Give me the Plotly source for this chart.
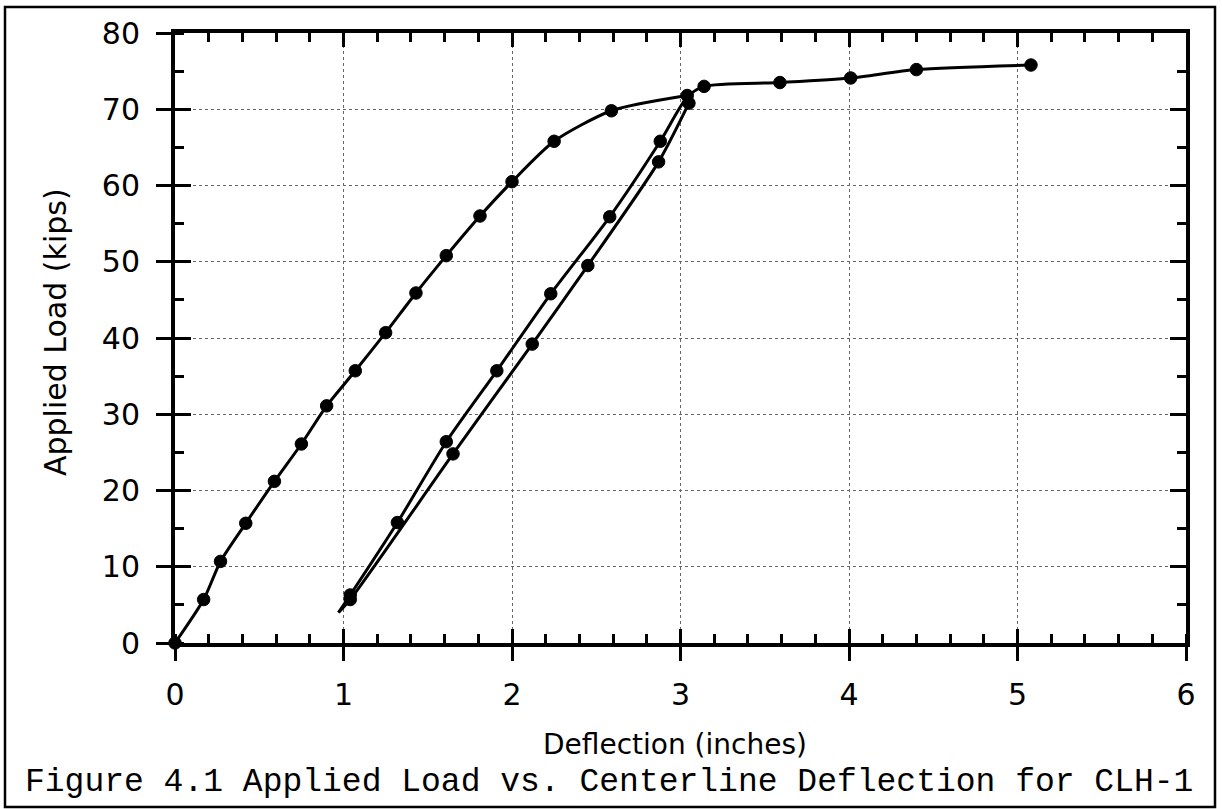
import plotly.graph_objects as go

# Loading (envelope up to unloading point)
load_x = [0.0, 0.17, 0.27, 0.42, 0.59, 0.75, 0.90, 1.07, 1.25, 1.43, 1.61, 1.81, 2.00, 2.25, 2.59, 3.04]
load_y = [0.0, 5.7, 10.7, 15.7, 21.2, 26.1, 31.1, 35.7, 40.7, 45.9, 50.8, 56.0, 60.5, 65.8, 69.8, 71.8]

# Unloading branch
unload_x = [3.05, 2.87, 2.45, 2.12, 1.65, 1.04, 0.97]
unload_y = [70.8, 63.1, 49.5, 39.2, 24.8, 5.7, 4.0]
unload_marker = [True, True, True, True, True, True, False]

# Reloading branch and continuation
reload_x = [0.97, 1.04, 1.32, 1.61, 1.91, 2.23, 2.58, 2.88, 3.04, 3.14, 3.59, 4.01, 4.40, 5.08]
reload_y = [4.0, 6.3, 15.8, 26.4, 35.7, 45.8, 55.9, 65.8, 71.6, 73.0, 73.5, 74.1, 75.2, 75.8]
reload_marker = [False, True, True, True, True, True, True, True, False, True, True, True, True, True]

x_title = "Deflection (inches)"
y_title = "Applied Load (kips)"
caption = "Figure 4.1 Applied Load vs. Centerline Deflection for CLH-1"

SANS = "DejaVu Sans"
MONO = "Liberation Mono"
MS = 12.5

fig = go.Figure()

def add_curve(xs, ys, show=None):
    fig.add_trace(go.Scatter(
        x=xs, y=ys, mode="lines",
        line=dict(color="black", width=3, shape="spline", smoothing=0.7),
        hoverinfo="skip", showlegend=False, cliponaxis=False))
    if show is None:
        mx, my = xs, ys
    else:
        mx = [a for a, s in zip(xs, show) if s]
        my = [b for b, s in zip(ys, show) if s]
    fig.add_trace(go.Scatter(
        x=mx, y=my, mode="markers",
        marker=dict(color="black", size=MS, symbol="circle",
                    line=dict(color="black", width=1)),
        hoverinfo="skip", showlegend=False, cliponaxis=False))

add_curve(load_x, load_y)
add_curve(unload_x, unload_y, unload_marker)
add_curve(reload_x, reload_y, reload_marker)

# invisible trace for the overlay axes (inside ticks)
fig.add_trace(go.Scatter(x=[0, 6], y=[0, 80], xaxis="x2", yaxis="y2", mode="markers",
                         marker=dict(opacity=0), hoverinfo="skip", showlegend=False))

common_line = dict(showline=True, linecolor="black", linewidth=4, zeroline=False)
grid = dict(showgrid=True, gridcolor="#666", griddash="dot", gridwidth=1)
minor_x = dict(tick0=0, dtick=0.2, ticks="inside", ticklen=9, tickwidth=2.5,
               tickcolor="black", showgrid=False)
minor_y = dict(tick0=0, dtick=5, ticks="inside", ticklen=9, tickwidth=2.5,
               tickcolor="black", showgrid=False)

fig.update_layout(
    width=1222, height=809,
    margin=dict(l=175, r=36, t=33, b=166),
    paper_bgcolor="white", plot_bgcolor="white",
    xaxis=dict(range=[0, 6], tickmode="linear", tick0=0, dtick=1, ticks="outside", ticklen=14,
               tickwidth=3, tickcolor="black", mirror=False,
               tickfont=dict(family=SANS, size=30, color="black"),
               ticklabelstandoff=8, minor=minor_x, **grid, **common_line),
    yaxis=dict(range=[0, 80], tickmode="linear", tick0=0, dtick=10, ticks="outside", ticklen=15,
               tickwidth=3, tickcolor="black", mirror=False,
               tickfont=dict(family=SANS, size=30, color="black"),
               ticklabelstandoff=10, minor=minor_y, **grid, **common_line),
    xaxis2=dict(range=[0, 6], overlaying="x", anchor="y2", side="bottom",
                tickmode="linear", tick0=0, dtick=1, ticks="inside", ticklen=14, tickwidth=3,
                tickcolor="black", mirror="allticks", showticklabels=False,
                showgrid=False, minor=minor_x, **common_line),
    yaxis2=dict(range=[0, 80], overlaying="y", anchor="x2", side="left",
                tickmode="linear", tick0=0, dtick=10, ticks="inside", ticklen=16, tickwidth=3,
                tickcolor="black", mirror="allticks", showticklabels=False,
                showgrid=False, minor=minor_y, **common_line),
)

# outer border
fig.add_shape(type="rect", xref="paper", yref="paper",
              x0=(5 - 175) / 1011, x1=(1215 - 175) / 1011,
              y0=(643 - 807) / 610, y1=(643 - 7) / 610,
              line=dict(color="black", width=2.5), layer="below")

fig.add_annotation(text=x_title, xref="paper", yref="paper",
                   x=(675 - 175) / 1011, y=(643 - 744) / 610,
                   showarrow=False, xanchor="center", yanchor="middle",
                   font=dict(family=SANS, size=28, color="black"))
fig.add_annotation(text=y_title, xref="paper", yref="paper",
                   x=(55 - 175) / 1011, y=(643 - 332) / 610, textangle=-90,
                   showarrow=False, xanchor="center", yanchor="middle",
                   font=dict(family=SANS, size=30, color="black"))
fig.add_annotation(text=caption, xref="paper", yref="paper",
                   x=(609 - 175) / 1011, y=(643 - 782) / 610,
                   showarrow=False, xanchor="center", yanchor="middle",
                   font=dict(family=MONO, size=33, color="black"))

fig.write_html("out.html")
